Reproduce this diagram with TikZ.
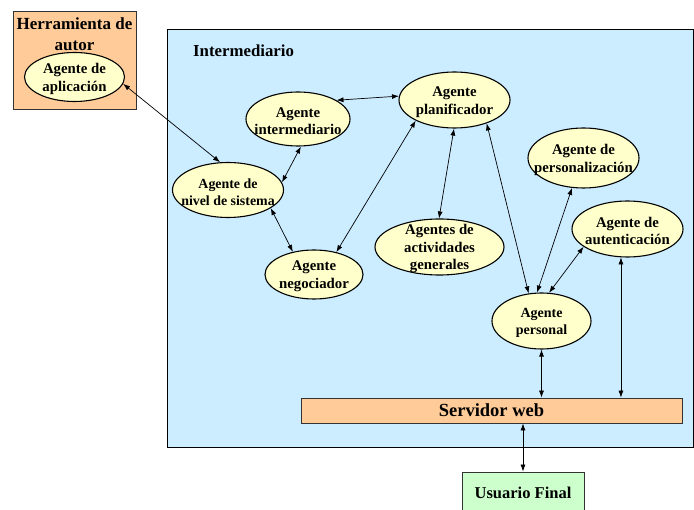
\documentclass[tikz,border=0pt]{standalone}
\usepackage{fontspec}
\setmainfont{Liberation Serif}
\usetikzlibrary{arrows.meta,shapes.geometric,calc}
\definecolor{orangefill}{HTML}{FFCC99}
\definecolor{bluefill}{HTML}{CCECFF}
\definecolor{agfill}{HTML}{FFFFCC}
\definecolor{greenfill}{HTML}{CCFFCC}
\definecolor{boxline}{HTML}{333333}
\tikzset{
  agent/.style={ellipse, draw=black, line width=1.1pt, fill=agfill, inner sep=0pt},
  agtext/.style={font=\bfseries\fontsize{14.8}{17.5}\selectfont, align=center, text=black, inner sep=0pt, yshift=-2pt},
  arr/.style={{Latex[length=7pt,width=5pt]}-{Latex[length=7pt,width=5pt]}, line width=0.7pt},
  rectbox/.style={draw=boxline, line width=0.8pt, inner sep=0pt}
}
\begin{document}
\begin{tikzpicture}[x=1pt,y=-1pt]
\useasboundingbox (0,0) rectangle (694,510);
\clip (0,0) rectangle (694,510);
% containers
\node[rectbox, fill=orangefill, minimum width=123pt, minimum height=98pt] (herr) at (74.5,60) {};
\node[font=\bfseries\fontsize{17}{21}\selectfont, align=center, inner sep=0pt] (herrt) at (74.5,34) {Herramienta de\\autor};
\node[rectbox, draw=black, fill=bluefill, minimum width=526pt, minimum height=418pt] (inter) at (430,238) {};
\node[font=\bfseries\fontsize{16.8}{19}\selectfont, anchor=west, inner sep=0pt] (intert) at (193,51) {Intermediario};
% agents
\node[agent, minimum width=100pt, minimum height=49pt, label={[agtext]center:Agente de\\aplicación}] (apl) at (74.5,77) {};
\node[agent, minimum width=104pt, minimum height=54pt, label={[agtext]center:Agente\\intermediario}] (int) at (298,119) {};
\node[agent, minimum width=111pt, minimum height=56pt, label={[agtext]center:Agente\\planificador}] (plan) at (454.5,100) {};
\node[agent, minimum width=111pt, minimum height=55pt, label={[agtext,font=\bfseries\fontsize{13.9}{17}\selectfont]center:Agente de\\nivel de sistema}] (niv) at (228,190) {};
\node[agent, minimum width=98pt, minimum height=49pt, label={[agtext]center:Agente\\negociador}] (neg) at (314,274.5) {};
\node[agent, minimum width=129pt, minimum height=56pt, label={[agtext]center:Agentes de\\actividades\\generales}] (act) at (439.5,247) {};
\node[agent, minimum width=111pt, minimum height=60pt, label={[agtext]center:Agente de\\personalización}] (pers) at (583.5,158) {};
\node[agent, minimum width=111pt, minimum height=56pt, label={[agtext]center:Agente de\\autenticación}] (aut) at (627.5,229) {};
\node[agent, minimum width=99pt, minimum height=56pt, label={[agtext,font=\bfseries\fontsize{14}{17.5}\selectfont]center:Agente\\personal}] (perso) at (541.5,321) {};
% server and user
\node[rectbox, fill=orangefill, minimum width=381pt, minimum height=25pt, font=\bfseries\fontsize{18.5}{22}\selectfont] (serv) at (491.5,410.5) {Servidor web};
\node[rectbox, fill=greenfill, minimum width=122pt, minimum height=42pt, font=\bfseries\fontsize{16.5}{20}\selectfont] (usu) at (523,493) {Usuario Final};
% connectors
\draw[arr] (apl.-8.7) -- (niv.106.5);
\draw[arr] (int.26.6) -- (plan.176.9);
\draw[arr] (int.-84) -- (niv.8);
\draw[arr] (niv.-23.4) -- (neg.133);
\draw[arr] (plan.208.4) -- (neg.45.6);
\draw[arr] (plan.-91) -- (act.91);
\draw[arr] (plan.-36.4) -- (perso.115.7);
\draw[arr] (pers.-111.3) -- (perso.99);
\draw[arr] (aut.202.5) -- (perso.75);
\draw[arr] (aut.-103) -- (aut.-103 |- serv.north);
\draw[arr] (perso.south) -- (perso.south |- serv.north);
\draw[arr] (usu.north |- serv.south) -- (usu.north);
\end{tikzpicture}
\end{document}
